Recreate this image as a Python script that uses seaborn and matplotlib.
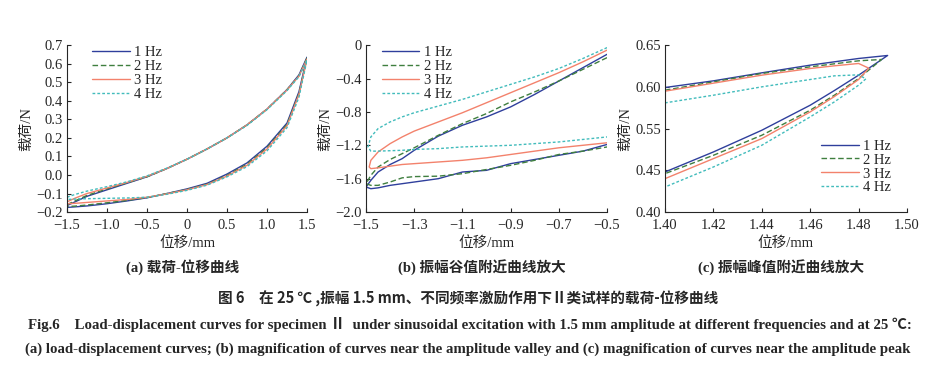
import numpy as np
import pandas as pd
import matplotlib
matplotlib.use("Agg")
import matplotlib.pyplot as plt
import seaborn as sns

# frequencies / legend
freqs = ["1 Hz", "2 Hz", "3 Hz", "4 Hz"]
colors = ["#2f3f9c", "#3f7f3f", "#f3826c", "#42bcbc"]

# (a) full loops: common displacement nodes, upper and lower branch
xa = [-1.5, -1.4, -1.25, -1.0, -0.75, -0.5, -0.25, 0, 0.25, 0.5, 0.75, 1.0, 1.25, 1.4, 1.5]
a_up_1 = [-0.165, -0.145, -0.115, -0.08, -0.045, -0.01, 0.035, 0.085, 0.14, 0.20, 0.27, 0.355, 0.46, 0.54, 0.635]
a_up_2 = [-0.16, -0.14, -0.11, -0.075, -0.042, -0.01, 0.035, 0.085, 0.14, 0.20, 0.27, 0.355, 0.46, 0.535, 0.63]
a_up_3 = [-0.145, -0.125, -0.10, -0.07, -0.04, -0.007, 0.035, 0.085, 0.14, 0.20, 0.27, 0.355, 0.458, 0.533, 0.625]
a_up_4 = [-0.12, -0.105, -0.087, -0.063, -0.037, -0.005, 0.037, 0.085, 0.14, 0.20, 0.267, 0.352, 0.455, 0.53, 0.62]
a_lo_1 = [-0.175, -0.172, -0.167, -0.155, -0.14, -0.123, -0.10, -0.075, -0.045, 0.005, 0.065, 0.155, 0.28, 0.45, 0.635]
a_lo_2 = [-0.17, -0.168, -0.162, -0.15, -0.137, -0.122, -0.10, -0.078, -0.05, -0.002, 0.058, 0.147, 0.272, 0.44, 0.63]
a_lo_3 = [-0.155, -0.153, -0.148, -0.14, -0.132, -0.12, -0.102, -0.08, -0.052, -0.006, 0.052, 0.14, 0.265, 0.435, 0.625]
a_lo_4 = [-0.132, -0.13, -0.128, -0.126, -0.124, -0.12, -0.104, -0.083, -0.055, -0.01, 0.045, 0.13, 0.255, 0.42, 0.62]

# (b) valley zoom
xb = [-0.5, -0.6, -0.7, -0.8, -0.9, -1.0, -1.1, -1.2, -1.3, -1.35, -1.4, -1.45, -1.48]
b_up_1 = [-0.11, -0.27, -0.43, -0.59, -0.74, -0.86, -0.96, -1.09, -1.26, -1.36, -1.43, -1.52, -1.62]
b_up_2 = [-0.15, -0.29, -0.43, -0.56, -0.68, -0.82, -0.94, -1.08, -1.23, -1.30, -1.37, -1.46, -1.56]
b_up_3 = [-0.06, -0.20, -0.33, -0.45, -0.57, -0.69, -0.81, -0.92, -1.03, -1.10, -1.18, -1.28, -1.38]
b_up_4 = [-0.03, -0.16, -0.28, -0.38, -0.47, -0.56, -0.65, -0.73, -0.81, -0.86, -0.92, -1.00, -1.10]
b_lo_1 = [-1.19, -1.27, -1.32, -1.37, -1.42, -1.50, -1.52, -1.60, -1.64, -1.66, -1.68, -1.71, -1.72]
b_lo_2 = [-1.22, -1.27, -1.31, -1.38, -1.44, -1.49, -1.54, -1.57, -1.575, -1.59, -1.64, -1.68, -1.68]
b_lo_3 = [-1.17, -1.20, -1.23, -1.27, -1.31, -1.35, -1.38, -1.40, -1.42, -1.43, -1.45, -1.47, -1.48]
b_lo_4 = [-1.10, -1.13, -1.16, -1.18, -1.20, -1.21, -1.22, -1.24, -1.25, -1.26, -1.265, -1.27, -1.27]
b_tip_x = [-1.50, -1.50, -1.487, -1.492]
b_tip_y = [-1.70, -1.66, -1.46, -1.22]

# (c) peak zoom (y in axis units, ticks relabelled as printed)
xc = [1.40, 1.42, 1.44, 1.46, 1.47, 1.48]
c_up_1 = [0.5865, 0.5965, 0.6085, 0.620, 0.625, 0.630]
c_up_2 = [0.5825, 0.595, 0.6075, 0.6175, 0.622, 0.6265]
c_up_3 = [0.581, 0.593, 0.605, 0.615, 0.619, 0.6225]
c_up_4 = [0.5635, 0.575, 0.5875, 0.5985, 0.604, 0.6055]
c_lo_1 = [0.460, 0.490, 0.5225, 0.560, 0.582, 0.605]
c_lo_2 = [0.4575, 0.485, 0.515, 0.5525, 0.575, 0.600]
c_lo_3 = [0.450, 0.480, 0.510, 0.550, 0.573, 0.5985]
c_lo_4 = [0.4375, 0.4675, 0.500, 0.5425, 0.565, 0.590]
c_tip_x = [1.492, 1.4895, 1.4842, 1.4830]
c_tip_y = [0.6345, 0.6285, 0.6155, 0.5995]
c_ticks = [0.40, 0.4625, 0.525, 0.5875, 0.65]
c_ticklabels = ["0.40", "0.45", "0.55", "0.60", "0.65"]


def loop_frame(xs, ys_list):
    rows = []
    for f, (x, y) in zip(freqs, zip(xs, ys_list)):
        for i, (xi, yi) in enumerate(zip(x, y)):
            rows.append((f, i, xi, yi))
    return pd.DataFrame(rows, columns=["freq", "i", "x", "y"])


# build closed paths
a_x, a_y = [], []
for up, lo in [(a_up_1, a_lo_1), (a_up_2, a_lo_2), (a_up_3, a_lo_3), (a_up_4, a_lo_4)]:
    a_x.append(xa + xa[::-1] + [xa[0]])
    a_y.append(up + lo[::-1] + [up[0]])
df_a = loop_frame(a_x, a_y)

b_x, b_y = [], []
for k, (up, lo) in enumerate([(b_up_1, b_lo_1), (b_up_2, b_lo_2), (b_up_3, b_lo_3), (b_up_4, b_lo_4)]):
    b_x.append(xb + [b_tip_x[k]] + xb[::-1])
    b_y.append(up + [b_tip_y[k]] + lo[::-1])
df_b = loop_frame(b_x, b_y)

c_x, c_y = [], []
for k, (up, lo) in enumerate([(c_up_1, c_lo_1), (c_up_2, c_lo_2), (c_up_3, c_lo_3), (c_up_4, c_lo_4)]):
    c_x.append(xc + [c_tip_x[k]] + xc[::-1])
    c_y.append(up + [c_tip_y[k]] + lo[::-1])
df_c = loop_frame(c_x, c_y)

sns.set_style("ticks", {"xtick.direction": "in", "ytick.direction": "in"})
plt.rcParams["font.family"] = ["Liberation Serif", "Noto Sans CJK SC"]
plt.rcParams["axes.unicode_minus"] = True
plt.rcParams["axes.linewidth"] = 0.8
plt.rcParams["xtick.major.size"] = 3
plt.rcParams["ytick.major.size"] = 3

palette = dict(zip(freqs, colors))
dashes = {"1 Hz": "", "2 Hz": (4, 2), "3 Hz": "", "4 Hz": (2, 1.5)}

fig = plt.figure(figsize=(9.4, 3.76), dpi=100)
positions = [
    [0.0713, 0.436, 0.2553, 0.444],
    [0.3894, 0.436, 0.2564, 0.444],
    [0.7074, 0.436, 0.2575, 0.444],
]
axes = [fig.add_axes(p) for p in positions]

for ax, df in zip(axes, [df_a, df_b, df_c]):
    sns.lineplot(data=df, x="x", y="y", hue="freq", style="freq", units="freq",
                 estimator=None, sort=False, palette=palette, dashes=dashes,
                 linewidth=1.0, ax=ax)
    sns.despine(ax=ax)
    ax.set_xlabel("位移/mm", fontsize=10.5, labelpad=3)
    ax.set_ylabel("载荷/N", fontsize=10.5, labelpad=2)
    ax.tick_params(labelsize=10.5, width=0.8)
    ax.tick_params(axis="x", pad=5)
    ax.tick_params(axis="y", pad=3)

# (a)
ax = axes[0]
ax.set_xlim(-1.5, 1.5)
ax.set_ylim(-0.2, 0.7)
ax.set_xticks([-1.5, -1.0, -0.5, 0, 0.5, 1.0, 1.5])
ax.set_xticklabels(["\u22121.5", "\u22121.0", "\u22120.5", "0", "0.5", "1.0", "1.5"])
ax.set_yticks(np.arange(-0.2, 0.71, 0.1))
ax.set_yticklabels([f"{v:.1f}".replace("-", "\u2212") for v in np.arange(-0.2, 0.71, 0.1)])

# (b)
ax = axes[1]
ax.set_xlim(-1.5, -0.5)
ax.set_ylim(-2.0, 0)
ax.set_xticks([-1.5, -1.3, -1.1, -0.9, -0.7, -0.5])
ax.set_xticklabels(["\u22121.5", "\u22121.3", "\u22121.1", "\u22120.9", "\u22120.7", "\u22120.5"])
ax.set_yticks([0, -0.4, -0.8, -1.2, -1.6, -2.0])
ax.set_yticklabels(["0", "\u22120.4", "\u22120.8", "\u22121.2", "\u22121.6", "\u22122.0"])

# (c)
ax = axes[2]
ax.set_xlim(1.40, 1.50)
ax.set_ylim(0.40, 0.65)
ax.set_xticks([1.40, 1.42, 1.44, 1.46, 1.48, 1.50])
ax.set_xticklabels(["1.40", "1.42", "1.44", "1.46", "1.48", "1.50"])
ax.set_yticks(c_ticks)
ax.set_yticklabels(c_ticklabels)

legend_locs = [(0.08, 1.03), (0.04, 1.03), (0.62, 0.47)]
for ax, loc in zip(axes, legend_locs):
    h, l = ax.get_legend_handles_labels()
    ax.legend(h, l, loc="upper left", bbox_to_anchor=loc, frameon=False, fontsize=10.5,
              handlelength=2.6, handletextpad=0.3, labelspacing=0.05, borderaxespad=0)

subtitles = ["(a) 载荷-位移曲线", "(b) 振幅谷值附近曲线放大", "(c) 振幅峰值附近曲线放大"]
for ax, t in zip(axes, subtitles):
    pos = ax.get_position()
    fig.text((pos.x0 + pos.x1) / 2 - 0.005, 1 - 267 / 376, t, ha="center", va="center",
             fontsize=10.5, fontweight="bold")

fig.text(0.498, 1 - 299 / 376,
         "图 6\u3000在 25 ℃ ,振幅 1.5 mm、不同频率激励作用下Ⅱ类试样的载荷-位移曲线",
         ha="center", va="center", fontsize=10.5, fontweight="bold", family=["Noto Sans CJK SC"])
fig.text(0.03, 1 - 325 / 376,
         "Fig.6    Load-displacement curves for specimen Ⅱ  under sinusoidal excitation with 1.5 mm "
         "amplitude at different frequencies and at 25 ℃:",
         ha="left", va="center", fontsize=10.7, fontweight="bold")
fig.text(0.027, 1 - 349 / 376,
         "(a) load-displacement curves; (b) magnification of curves near the amplitude valley "
         "and (c) magnification of curves near the amplitude peak",
         ha="left", va="center", fontsize=10.7, fontweight="bold")

fig.savefig("out.png", dpi=100)
